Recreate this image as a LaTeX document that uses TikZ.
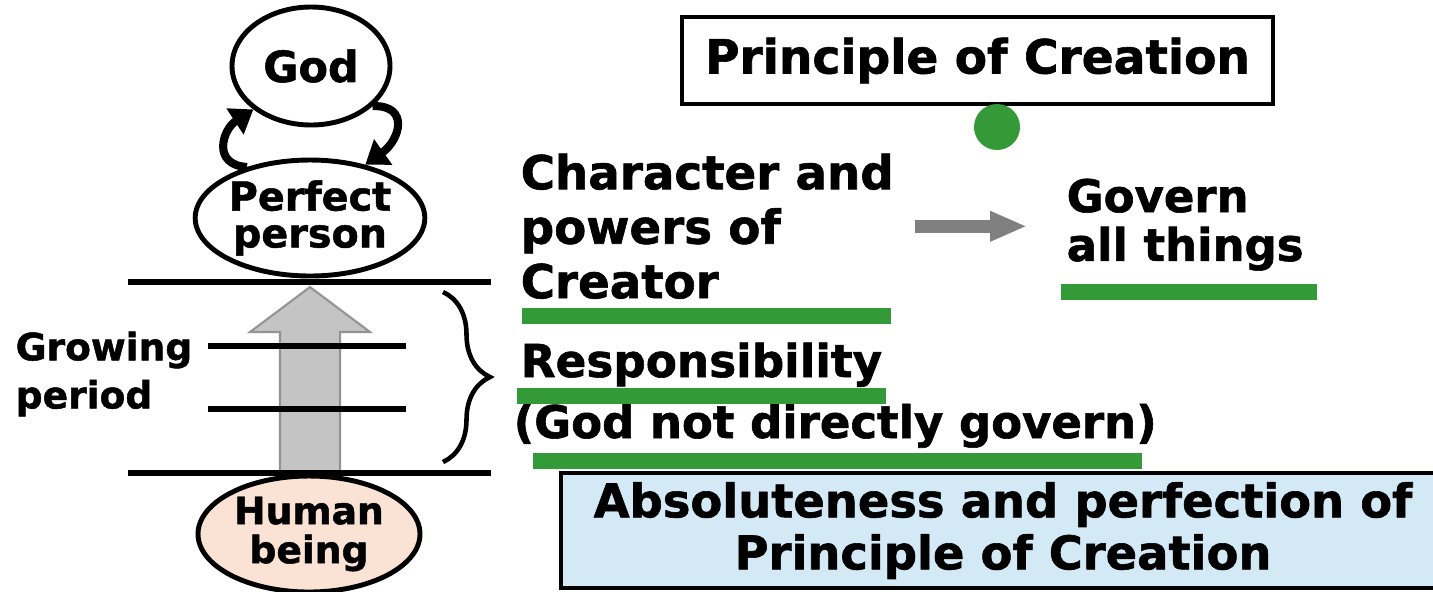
\documentclass[tikz,border=0pt]{standalone}
\usepackage{fontspec}
\setmainfont{DejaVu Sans}[BoldFeatures={FakeBold=1.3}]
\usetikzlibrary{arrows.meta,calc,positioning,decorations.pathreplacing,shapes.geometric}
\definecolor{principlegreen}{RGB}{52,154,56}
\definecolor{principleblue}{RGB}{212,233,246}
\definecolor{principlepeach}{RGB}{250,227,213}
\definecolor{arrowgray}{RGB}{128,128,128}
\definecolor{stemgray}{RGB}{196,196,196}

\begin{document}
\begin{tikzpicture}[>=Stealth,
 oval/.style={ellipse,draw,line width=1.4pt,inner sep=0pt,align=center,
  font=\bfseries\fontsize{11.3}{10.5}\selectfont},
 stage/.style={line width=1.7pt},
 greenbar/.style={principlegreen,line width=0.16cm},
 textblock/.style={inner sep=0pt,align=left,font=\bfseries\fontsize{13.3}{15.5}\selectfont},
 loop arrow/.style={line width=2.3pt,-{Triangle[length=0.22cm,width=0.3cm]}}]
\useasboundingbox (0,0) rectangle (14.33,-5.91);
% left column: God, perfect person, growing period
\node[oval,minimum width=1.58cm,minimum height=1.18cm,
 font=\bfseries\fontsize{12.2}{14}\selectfont] (god) at (3.11,-0.66) {God};
\node[oval,minimum width=2.26cm,minimum height=1.16cm] (perfect) at (3.10,-2.18) {Perfect\\person};
\node[oval,fill=principlepeach,minimum width=2.22cm,minimum height=1.16cm,
 font=\bfseries\fontsize{10.7}{11.1}\selectfont] (human) at (3.09,-5.34) {Human\\being};
\draw[loop arrow] (perfect.141) .. controls (2.12,-1.65) and (2.22,-1.30) .. (god.217);
\draw[loop arrow] (god.327) .. controls (4.10,-1.05) and (4.00,-1.40) .. (perfect.44);
\draw[arrowgray!85,fill=stemgray,line width=0.6pt] (2.80,-4.73) -- (2.80,-3.32) -- (2.50,-3.32)
 -- (3.10,-2.87) -- (3.70,-3.32) -- (3.40,-3.32) -- (3.40,-4.73) -- cycle;
\draw[stage] (1.28,-2.82) -- (4.91,-2.82);
\draw[stage] (1.28,-4.73) -- (4.91,-4.73);
\draw[stage] (2.08,-3.46) -- (4.06,-3.46);
\draw[stage] (2.08,-4.09) -- (4.06,-4.09);
\draw[decorate,decoration={brace,amplitude=0.47cm},line width=1.3pt] (4.43,-2.92) -- (4.43,-4.62);
\node[textblock,anchor=north west,font=\bfseries\fontsize{10.7}{13.7}\selectfont] (growing)
 at (0.15,-3.31) {Growing\\period};
% right column
\node[draw,line width=1.4pt,minimum width=5.91cm,minimum height=0.87cm,inner sep=0pt,
 font=\bfseries\fontsize{13.4}{15}\selectfont] (principle) at (9.775,-0.605) {Principle of Creation};
\node[circle,fill=principlegreen,minimum size=0.46cm,inner sep=0pt] (dot) at (9.97,-1.27) {};
\node[textblock,anchor=north west] (creator) at (5.20,-1.53) {Character and\\powers of\\Creator};
\node[textblock,anchor=north west,font=\bfseries\fontsize{12.8}{13.9}\selectfont] (govern)
 at (10.66,-1.78) {Govern\\all things};
\draw[arrowgray,line width=0.13cm,-{Triangle[length=0.37cm,width=0.28cm]},
 shorten <=0.2cm,shorten >=0.39cm] (creator.east) -- (creator.east -| govern.west);
\node[textblock,anchor=base west,font=\bfseries\fontsize{12.9}{15}\selectfont] (duty)
 at (5.20,-3.77) {Responsibility};
\node[textblock,anchor=base west,font=\bfseries\fontsize{12.8}{15}\selectfont] (indirect)
 at (5.13,-4.38) {(God not directly govern)};
\draw[greenbar] (5.22,-3.16) -- (8.91,-3.16);
\draw[greenbar] (10.61,-2.92) -- (13.17,-2.92);
\draw[greenbar] (5.17,-3.96) -- (8.86,-3.96);
\draw[greenbar] (5.33,-4.605) -- (11.42,-4.605);
\node[draw,fill=principleblue,line width=1.4pt,minimum width=8.84cm,minimum height=1.15cm,
 inner sep=0pt,align=center,font=\bfseries\fontsize{13.2}{14.8}\selectfont] (absolute)
 at (10.03,-5.305) {Absoluteness and perfection of\\Principle of Creation};
\end{tikzpicture}
\end{document}
